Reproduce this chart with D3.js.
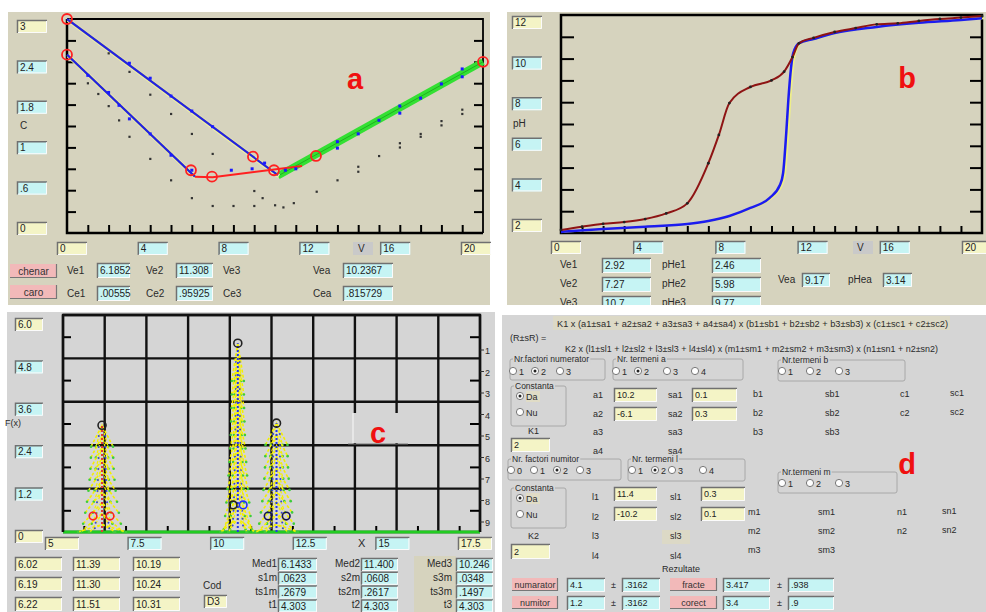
<!DOCTYPE html>
<html>
<head>
<meta charset="utf-8">
<script src="https://cdn.jsdelivr.net/npm/d3@7"></script>
<style>
  body { margin: 0; background: #fff; }
  svg { display: block; font-family: "Liberation Sans", Arial, sans-serif; }
</style>
</head>
<body>
<svg id="chart" width="986" height="612"></svg>
<script>
// ---- panel a : conductometric titration ----
const aLineUpper = [[0, 3], [10.14, 0.81]];
const aLineLower = [[0, 2.5], [6.15, 0.79]];
const aLineRed = [[6.15, 0.79], [7, 0.78], [11.3, 0.94]];
const aLineGreen = [[10.14, 0.80], [20, 2.4]];
const aCircles = [[0, 3], [0, 2.5], [5.96, 0.88], [6.97, 0.79], [8.94, 1.07], [9.95, 0.88], [11.97, 1.08], [20, 2.4]];
const aBlueDots = [[3, 2.38], [4, 2.17], [5, 1.92], [6, 1.71], [7, 1.49], [9.5, 0.98],
  [1, 2.21], [2, 1.97], [2.5, 1.79], [3, 1.60], [4, 1.39], [5, 1.09], [6, 0.88],
  [7.9, 0.88], [8.9, 0.90], [10.5, 0.88], [11, 0.90],
  [13, 1.28], [13, 1.19], [14, 1.39], [15, 1.58], [16, 1.78], [16, 1.68], [17, 1.89], [18, 2.09], [19, 2.30], [19, 2.19]];
const aBlackDots = [[2, 2.52], [3, 2.26], [4, 1.94], [5, 1.67], [6, 1.39], [7, 1.11],
  [1, 2.10], [1.5, 1.95], [2, 1.78], [2.5, 1.58], [3, 1.35], [4, 1.04], [5, 0.74], [6, 0.49], [7, 0.38], [8, 0.38],
  [9, 0.59], [9.4, 0.49], [9, 0.38], [10, 0.39], [10.4, 0.36], [10.9, 0.42], [12, 0.58], [13, 0.74],
  [14, 0.93], [14, 0.86], [15, 1.08], [16, 1.26], [16, 1.20], [17, 1.39], [17, 1.35], [18, 1.57], [18, 1.51], [19, 1.73], [19, 1.67]];
const aXLabels = ['0', '4', '8', '12', '16', '20'];
const aYLabels = ['3', '2.4', '1.8', '1', '.6', '0'];
const aVeNames = ['Ve1', 'Ve2', 'Ve3', 'Vea'];
const aVeValues = ['6.1852', '11.308', '', '10.2367'];
const aCeNames = ['Ce1', 'Ce2', 'Ce3', 'Cea'];
const aCeValues = ['.00555', '.95925', '', '.815729'];

// ---- panel b : pH titration curves ----
const bVol1 = [0, 1, 2, 3, 4, 5, 6, 7, 7.5, 8, 9, 10, 10.6, 11, 11.3, 12, 13, 14, 15, 16, 17, 18, 19, 20];
const bPh1 = [2.14, 2.29, 2.42, 2.5, 2.64, 2.9, 3.36, 5.2, 6.5, 7.96, 8.7, 9.0, 9.4, 10.07, 10.7, 10.95, 11.22, 11.4, 11.57, 11.62, 11.73, 11.82, 11.88, 11.95];
const bVol2 = [0, 2, 4, 6, 7, 8, 9, 9.9, 10.4, 10.55, 10.7, 10.8, 10.93, 11.03, 11.3, 12, 13, 15, 17, 19, 20];
const bPh2 = [2.05, 2.18, 2.29, 2.41, 2.55, 2.78, 3.15, 3.6, 4.2, 4.74, 6.58, 8.1, 9.6, 10.24, 10.7, 10.9, 11.17, 11.45, 11.64, 11.77, 11.85];
const bXLabels = ['0', '4', '8', '12', '16', '20'];
const bYLabels = ['12', '10', '8', '6', '4', '2'];
const bVeNames = ['Ve1', 'Ve2', 'Ve3'];
const bVeValues = ['2.92', '7.27', '10.7'];
const bPheNames = ['pHe1', 'pHe2', 'pHe3'];
const bPheValues = ['2.46', '5.98', '9.77'];

// ---- panel c : distributions ----
const cPeakX = [6.17, 10.24, 11.40];
const cPeakH = [2.95, 5.22, 3.01];
const cPeakTopW = [0.33, 0.18, 0.33];
const cPeakBaseW = [0.72, 0.52, 0.64];
const cCircleX = [5.90, 6.41, 10.10, 10.40, 11.15, 11.69];
const cCircleY = [0.44, 0.44, 0.75, 0.75, 0.44, 0.44];
const cXLabels = ['5', '7.5', '10', '12.5', '15', '17.5'];
const cYLabels = ['6.0', '4.8', '3.6', '2.4', '1.2', '0'];
const cRightLabels = ['1', '2', '3', '4', '5', '6', '7', '8', '9'];
const cTable = [['6.02', '11.39', '10.19'], ['6.19', '11.30', '10.24'], ['6.22', '11.51', '10.31']];
const cStatNames = [['Med1', 's1m', 'ts1m', 't1'], ['Med2', 's2m', 'ts2m', 't2'], ['Med3', 's3m', 'ts3m', 't3']];
const cStatValues = [['6.1433', '.0623', '.2679', '4.303'], ['11.400', '.0608', '.2617', '4.303'], ['10.246', '.0348', '.1497', '4.303']];

// ---- panel d : uncertainty form ----
const dFormula1 = 'K1 x (a1±sa1 + a2±sa2 + a3±sa3 + a4±sa4) x (b1±sb1 + b2±sb2 + b3±sb3) x (c1±sc1 + c2±sc2)';
const dFormula2 = 'K2 x (l1±sl1 + l2±sl2 + l3±sl3 + l4±sl4) x (m1±sm1 + m2±sm2 + m3±sm3) x (n1±sn1 + n2±sn2)';
const dAValues = ['10.2', '-6.1'];
const dSaValues = ['0.1', '0.3'];
const dLValues = ['11.4', '-10.2'];
const dSlValues = ['0.3', '0.1'];
const dResultNames = ['numarator', 'numitor'];
const dResultValues = ['4.1', '1.2'];
const dResultErrors = ['.3162', '.3162'];
const dFinalNames = ['fracte', 'corect'];
const dFinalValues = ['3.417', '3.4'];
const dFinalErrors = ['.938', '.9'];

// colours
const CYAN = '#c6f4f4', YEL = '#f4f4c6', PINK = '#f2b9b9';
const BEIGE = '#d6d3be', GRAY = '#d5d5d5';

const svg = d3.select('#chart');

// sunken edit box with text
function box(g, x, y, w, h, text, fill, size) {
  g.append('rect').attr('x', x).attr('y', y).attr('width', w).attr('height', h).attr('fill', fill);
  g.append('path').attr('d', `M${x + 0.5},${y + h}V${y + 0.5}H${x + w}`)
    .attr('fill', 'none').attr('stroke', '#707070').attr('stroke-width', 1.5);
  g.append('path').attr('d', `M${x + w - 0.5},${y + 1}V${y + h - 0.5}H${x + 1}`)
    .attr('fill', 'none').attr('stroke', '#fbfbfb').attr('stroke-width', 1);
  g.append('text').attr('x', x + 3).attr('y', y + h / 2).attr('dy', '0.36em')
    .attr('font-size', size || 10).attr('fill', '#222').text(text);
}

function label(g, x, y, text, size, anchor) {
  return g.append('text').attr('x', x).attr('y', y).attr('font-size', size || 10)
    .attr('fill', '#2a2a2a').attr('text-anchor', anchor || 'start').text(text);
}

function button(g, x, y, w, h, text, size) {
  g.append('rect').attr('x', x).attr('y', y).attr('width', w).attr('height', h).attr('fill', PINK);
  g.append('path').attr('d', `M${x + w - 0.5},${y}V${y + h - 0.5}H${x}`)
    .attr('fill', 'none').attr('stroke', '#777').attr('stroke-width', 1.2);
  g.append('text').attr('x', x + w / 2).attr('y', y + h / 2).attr('dy', '0.36em')
    .attr('text-anchor', 'middle').attr('font-size', size || 10).attr('fill', '#333').text(text);
}

function tickAxis(g, axis, tx, ty, width) {
  const a = g.append('g').attr('transform', `translate(${tx},${ty})`).call(axis);
  a.select('.domain').remove();
  a.selectAll('text').remove();
  a.selectAll('line').attr('stroke', '#000').attr('stroke-width', width || 2);
}

function panelLetter(x, y, t) {
  svg.append('text').attr('x', x).attr('y', y).attr('text-anchor', 'middle')
    .attr('font-size', 29).attr('font-weight', 'bold').attr('fill', '#f01010')
    .attr('font-family', '"Liberation Sans", Arial, sans-serif').text(t);
}

// ================= PANEL A =================
const ga = svg.append('g');
ga.append('rect').attr('x', 8).attr('y', 12).attr('width', 482).attr('height', 293).attr('fill', BEIGE);
const xa = d3.scaleLinear().domain([0, 20]).range([67, 483]);
const ya = d3.scaleLinear().domain([0, 3]).range([233, 19]);

tickAxis(ga, d3.axisRight(ya).tickValues(d3.range(1, 10).map(i => i * 0.3)).tickSize(9), 67, 0);
tickAxis(ga, d3.axisLeft(ya).tickValues(d3.range(1, 10).map(i => i * 0.3)).tickSize(9), 483, 0);
tickAxis(ga, d3.axisTop(xa).tickValues(d3.range(1, 20)).tickSize(8), 0, 233);
ga.append('path').attr('d', `M${xa(0)},${ya(3)}H${xa(20)}V${ya(0)}`).attr('fill', 'none').attr('stroke', '#000').attr('stroke-width', 1.8);
ga.append('path').attr('d', `M${xa(0)},${ya(3)}V${ya(0)}H${xa(20)}`).attr('fill', 'none').attr('stroke', '#000').attr('stroke-width', 2.5);

const lineA = d3.line().x(d => xa(d[0])).y(d => ya(d[1]));
ga.append('path').attr('d', lineA(aLineGreen)).attr('stroke', '#33e033').attr('stroke-width', 7).attr('fill', 'none');
ga.append('path').attr('d', lineA(aLineGreen)).attr('stroke', '#1fb01f').attr('stroke-width', 1).attr('fill', 'none');
[aLineUpper, aLineLower].forEach(l => {
  ga.append('path').attr('d', lineA(l)).attr('stroke', '#f2f2a0').attr('stroke-width', 4).attr('fill', 'none').attr('transform', 'translate(1,1)');
  ga.append('path').attr('d', lineA(l)).attr('stroke', '#2424dd').attr('stroke-width', 2.2).attr('fill', 'none');
});
ga.append('path').attr('d', lineA(aLineRed)).attr('stroke', '#ff2020').attr('stroke-width', 2).attr('fill', 'none');

ga.selectAll('.bk').data(aBlackDots).enter().append('rect').attr('class', 'bk')
  .attr('x', d => xa(d[0]) - 1).attr('y', d => ya(d[1]) - 1).attr('width', 2.2).attr('height', 2.2).attr('fill', '#333');
ga.selectAll('.bl').data(aBlueDots).enter().append('rect').attr('class', 'bl')
  .attr('x', d => xa(d[0]) - 1.5).attr('y', d => ya(d[1]) - 1.5).attr('width', 3).attr('height', 3).attr('fill', '#1a1aff');
ga.selectAll('.rc').data(aCircles).enter().append('circle').attr('class', 'rc')
  .attr('cx', d => xa(d[0])).attr('cy', d => ya(d[1])).attr('r', 5)
  .attr('fill', 'none').attr('stroke', '#ff2020').attr('stroke-width', 1.8);

aYLabels.forEach((t, i) => box(ga, 17, 20 + i * 40.4, 30, 13, t, (i === 0 || i === aYLabels.length - 1) ? YEL : CYAN));
label(ga, 20, 129, 'C', 10);
const aBoxX = d3.scaleLinear().domain([0, 20]).range([57, 461]);
aXLabels.forEach((t, i) => box(ga, aBoxX(+t), 242, 30, 13, t, (i === 0 || i === aXLabels.length - 1) ? YEL : CYAN));
ga.append('rect').attr('x', 353).attr('y', 242).attr('width', 20).attr('height', 13).attr('fill', '#c9c9c9');
label(ga, 358, 252, 'V');

const aColLabelX = [67, 146, 223, 313];
const aColBoxX = [97, 176, 0, 343];
const aColBoxW = [33, 37, 0, 50];
aVeNames.forEach((n, i) => {
  label(ga, aColLabelX[i], 274, n);
  if (aVeValues[i]) box(ga, aColBoxX[i], 263, aColBoxW[i], 15, aVeValues[i], CYAN);
});
aCeNames.forEach((n, i) => {
  label(ga, aColLabelX[i], 297, n);
  if (aCeValues[i]) box(ga, aColBoxX[i], 286, aColBoxW[i], 15, aCeValues[i], CYAN);
});
button(ga, 10, 264, 47, 14, 'chenar');
button(ga, 10, 285, 47, 14, 'caro');

// ================= PANEL B =================
const gb = svg.append('g');
gb.append('rect').attr('x', 507).attr('y', 12).attr('width', 479).attr('height', 293).attr('fill', BEIGE);
const xb = d3.scaleLinear().domain([0, 20]).range([561, 982]);
const yb = d3.scaleLinear().domain([2, 12]).range([233, 15]);

tickAxis(gb, d3.axisRight(yb).tickValues(d3.range(3, 12)).tickSize(13), 561, 0);
tickAxis(gb, d3.axisLeft(yb).tickValues(d3.range(3, 12)).tickSize(12), 982, 0);
tickAxis(gb, d3.axisTop(xb).tickValues(d3.range(1, 20)).tickSize(7), 0, 233);
gb.append('rect').attr('x', xb(0)).attr('y', yb(12)).attr('width', xb(20) - xb(0)).attr('height', yb(2) - yb(12))
  .attr('fill', 'none').attr('stroke', '#000').attr('stroke-width', 2.5);

const lineB = d3.line().curve(d3.curveMonotoneX).x(d => xb(d[0])).y(d => yb(d[1]));
const bData1 = bVol1.map((v, i) => [v, bPh1[i]]);
const bData2 = bVol2.map((v, i) => [v, bPh2[i]]);
gb.append('path').attr('d', lineB(bData2)).attr('stroke', '#eeee88').attr('stroke-width', 2).attr('fill', 'none').attr('transform', 'translate(2,0)');
gb.append('path').attr('d', lineB(bData2)).attr('stroke', '#1c1cf0').attr('stroke-width', 2.5).attr('fill', 'none');
gb.append('path').attr('d', lineB(bData1)).attr('stroke', '#8e1414').attr('stroke-width', 2).attr('fill', 'none');
gb.selectAll('.pd').data(bData1).enter().append('circle').attr('class', 'pd')
  .attr('cx', d => xb(d[0])).attr('cy', d => yb(d[1])).attr('r', 1.4).attr('fill', '#222');

bYLabels.forEach((t, i) => box(gb, 512, 16 + i * 40.6, 30, 13, t, (i === 0 || i === bYLabels.length - 1) ? YEL : CYAN));
label(gb, 513, 127, 'pH', 10);
const bBoxX = d3.scaleLinear().domain([0, 20]).range([551, 962]);
bXLabels.forEach((t, i) => box(gb, bBoxX(+t), 241, 30, 13, t, (i === 0 || i === bXLabels.length - 1) ? YEL : CYAN));
gb.append('rect').attr('x', 853).attr('y', 241).attr('width', 20).attr('height', 13).attr('fill', '#c9c9c9');
label(gb, 857, 251, 'V');

bVeNames.forEach((n, i) => {
  const y = 258 + i * 19;
  label(gb, 560, y + 10, n);
  box(gb, 602, y, 49, 15, bVeValues[i], CYAN);
  label(gb, 662, y + 10, bPheNames[i]);
  box(gb, 712, y, 49, 15, bPheValues[i], CYAN);
});
label(gb, 778, 283, 'Vea');
box(gb, 802, 273, 28, 14, '9.17', CYAN);
label(gb, 848, 283, 'pHea');
box(gb, 883, 273, 29, 14, '3.14', CYAN);

// white gap between rows of panels
svg.append('rect').attr('x', 0).attr('y', 305).attr('width', 986).attr('height', 7).attr('fill', '#fff');
svg.append('rect').attr('x', 495).attr('y', 305).attr('width', 491).attr('height', 10).attr('fill', '#fff');

// ================= PANEL C =================
const gc = svg.append('g');
gc.append('rect').attr('x', 7).attr('y', 312).attr('width', 488).attr('height', 300).attr('fill', GRAY);
const xc = d3.scaleLinear().domain([5, 17.5]).range([63, 480]);
const yc = d3.scaleLinear().domain([0, 6]).range([532, 315]);

gc.selectAll('.vg').data(d3.range(0, 11).map(i => 5 + i * 1.25)).enter().append('line').attr('class', 'vg')
  .attr('x1', d => xc(d)).attr('x2', d => xc(d)).attr('y1', yc(6)).attr('y2', yc(0))
  .attr('stroke', '#111').attr('stroke-width', 2.4);
gc.selectAll('.hg').data(d3.range(0, 6).map(i => i * 1.2)).enter().append('line').attr('class', 'hg')
  .attr('x1', xc(5)).attr('x2', xc(17.5)).attr('y1', d => yc(d)).attr('y2', d => yc(d))
  .attr('stroke', '#111').attr('stroke-width', 2.4);
const cMidY = d3.range(0, 5).map(i => 0.6 + i * 1.2);
const cMidX = d3.range(0, 10).map(i => 5.625 + i * 1.25);
tickAxis(gc, d3.axisRight(yc).tickValues(cMidY).tickSize(8), xc(5), 0);
tickAxis(gc, d3.axisLeft(yc).tickValues(cMidY).tickSize(10), xc(17.5), 0);
tickAxis(gc, d3.axisTop(xc).tickValues(cMidX).tickSize(6), 0, yc(0));
gc.append('line').attr('x1', xc(5)).attr('x2', xc(17.5)).attr('y1', yc(0)).attr('y2', yc(0))
  .attr('stroke', '#22cc22').attr('stroke-width', 3);

// small label box behind the letter c (breaks the grid lines)
gc.append('rect').attr('x', 353).attr('y', 413).attr('width', 55).attr('height', 30).attr('fill', GRAY);
gc.append('path').attr('d', 'M353,443V413').attr('stroke', '#f4f4f4').attr('stroke-width', 1.2);
gc.append('path').attr('d', 'M348,444H408').attr('stroke', '#777').attr('stroke-width', 1);

// peaks
const lineC = d3.line().x(d => xc(d[0])).y(d => yc(d[1]));
const cCenterColor = ['#e03838', '#2233ee', '#2233ee'];
cPeakX.forEach((cx, i) => {
  const h = cPeakH[i], tw = cPeakTopW[i], bw = cPeakBaseW[i];
  const n = Math.round(h * 2) + 4;
  const pg = gc.append('g');
  for (let j = 0; j < n; j++) {
    const t = j / (n - 1);
    const top = h * (1 - t * 0.93);
    const foot = Math.max(0, top - h * 0.2);
    const w = tw + (bw - tw) * t * t;
    [w, w * 0.55].forEach((ww, k) => {
      pg.append('path').attr('d', lineC([[cx - ww, foot], [cx, top], [cx + ww, foot]]))
        .attr('fill', 'none').attr('stroke', '#f4f000').attr('stroke-width', k ? 1.2 : 1.6)
        .attr('stroke-dasharray', '3,2');
    });
    [-w, w, -w * 0.55, w * 0.55].forEach(dx => {
      pg.append('circle').attr('cx', xc(cx + dx)).attr('cy', yc(foot)).attr('r', 1.3).attr('fill', '#3ccc3c');
    });
    [-w * 0.3, w * 0.3].forEach(dx => {
      pg.append('circle').attr('cx', xc(cx + dx)).attr('cy', yc((top + foot) / 2)).attr('r', 1).attr('fill', '#3344dd');
    });
  }
  pg.append('line').attr('x1', xc(cx)).attr('x2', xc(cx)).attr('y1', yc(0)).attr('y2', yc(h))
    .attr('stroke', cCenterColor[i]).attr('stroke-width', 2).attr('stroke-dasharray', '2,2');
  pg.append('circle').attr('cx', xc(cx)).attr('cy', yc(h)).attr('r', 4)
    .attr('fill', 'none').attr('stroke', '#222').attr('stroke-width', 1.6);
});
const cCircleStroke = ['#ff2020', '#ff2020', '#222', '#2030ff', '#141450', '#141450'];
cCircleX.forEach((x, i) => {
  gc.append('circle').attr('cx', xc(x)).attr('cy', yc(cCircleY[i])).attr('r', 3.8)
    .attr('fill', 'none').attr('stroke', cCircleStroke[i]).attr('stroke-width', 1.6);
});

// frame
gc.append('path').attr('d', `M${xc(5)},${yc(0)}V${yc(6)}H${xc(17.5)}V${yc(0)}`)
  .attr('fill', 'none').attr('stroke', '#111').attr('stroke-width', 2.4);

cRightLabels.forEach((t, i) => {
  const y = 350 + i * 21.5;
  gc.append('line').attr('x1', 480).attr('x2', 484).attr('y1', y).attr('y2', y).attr('stroke', '#333');
  label(gc, 485, y + 4, t, 9);
});
cYLabels.forEach((t, i) => box(gc, 15, 318 + i * 42.4, 28, 13, t, (i === 0 || i === cYLabels.length - 1) ? YEL : CYAN));
label(gc, 5, 426, 'F(x)', 9);
const cBoxX = d3.scaleLinear().domain([5, 17.5]).range([45, 458]);
cXLabels.forEach((t, i) => box(gc, cBoxX(+t), 537, 34, 13, t, (i === 0 || i === cXLabels.length - 1) ? YEL : CYAN));
label(gc, 358, 547, 'X', 11);

const cTableX = [15, 73, 133];
cTable.forEach((row, r) => row.forEach((v, k) => box(gc, cTableX[k], 557 + r * 20, 47, 14, v, YEL)));
label(gc, 203, 589, 'Cod');
box(gc, 204, 595, 23, 13, 'D3', YEL);

gc.append('rect').attr('x', 414).attr('y', 556).attr('width', 42).attr('height', 56).attr('fill', BEIGE);
const cStatLabelX = [277, 360, 452];
const cStatBoxX = [278, 361, 456];
const cStatBoxW = [39, 37, 37];
cStatNames.forEach((names, k) => names.forEach((n, r) => {
  label(gc, cStatLabelX[k], 567 + r * 13.8, n, 10, 'end');
  box(gc, cStatBoxX[k], 558 + r * 13.8, cStatBoxW[k], 13, cStatValues[k][r], CYAN);
}));

// ================= PANEL D =================
const gd = svg.append('g');
gd.append('rect').attr('x', 502).attr('y', 315).attr('width', 484).attr('height', 297).attr('fill', GRAY);
gd.append('rect').attr('x', 553).attr('y', 316).attr('width', 397).attr('height', 14).attr('fill', '#dcd9c6');
label(gd, 557, 327, dFormula1, 9).attr('textLength', 391).attr('lengthAdjust', 'spacingAndGlyphs');
label(gd, 510, 341, '(R±sR) =', 9);
label(gd, 565, 352, dFormula2, 9).attr('textLength', 373).attr('lengthAdjust', 'spacingAndGlyphs');

function group(g, x, y, w, h, title) {
  g.append('rect').attr('x', x).attr('y', y).attr('width', w).attr('height', h)
    .attr('fill', 'none').attr('stroke', '#a8a8a8').attr('rx', 2);
  const t = label(g, x + 4, y + 3, title, 8.5);
  const bb = t.node().getBBox();
  g.insert('rect', () => t.node()).attr('x', bb.x - 1).attr('y', bb.y).attr('width', bb.width + 2)
    .attr('height', bb.height).attr('fill', GRAY);
}
function radios(g, xs, y, names, sel) {
  xs.forEach((x, i) => {
    g.append('circle').attr('cx', x).attr('cy', y).attr('r', 3.6).attr('fill', '#fff').attr('stroke', '#777');
    if (i === sel) g.append('circle').attr('cx', x).attr('cy', y).attr('r', 1.5).attr('fill', '#222');
    label(g, x + 6, y + 3.5, names[i], 9);
  });
}

group(gd, 510, 359, 95, 21, 'Nr.factori numerator');
radios(gd, [513, 535, 560], 371, ['1', '2', '3'], 1);
group(gd, 613, 359, 130, 21, 'Nr. termeni a');
radios(gd, [616, 638, 667, 695], 371, ['1', '2', '3', '4'], 1);
group(gd, 778, 360, 127, 21, 'Nr.termeni b');
radios(gd, [782, 810, 839], 371, ['1', '2', '3'], -1);

function constanta(g, y) {
  group(g, 511, y, 55, 40, 'Constanta');
  g.append('rect').attr('x', 526).attr('y', y + 5).attr('width', 14).attr('height', 11).attr('fill', '#e0dcc6');
  radios(g, [520], y + 10, ['Da'], 0);
  radios(g, [520], y + 26, ['Nu'], -1);
}
constanta(gd, 386);

['a1', 'a2', 'a3', 'a4'].forEach((n, i) => label(gd, 593, 398 + i * 18.5, n, 9));
['sa1', 'sa2', 'sa3', 'sa4'].forEach((n, i) => label(gd, 668, 398 + i * 18.5, n, 9));
dAValues.forEach((v, i) => box(gd, 614, 388 + i * 19, 43, 14, v, YEL, 9));
dSaValues.forEach((v, i) => box(gd, 692, 388 + i * 19, 45, 14, v, YEL, 9));
label(gd, 528, 434, 'K1', 9);
box(gd, 511, 438, 39, 14, '2', YEL, 9);
['b1', 'b2', 'b3'].forEach((n, i) => label(gd, 753, 397 + i * 19, n, 9));
['sb1', 'sb2', 'sb3'].forEach((n, i) => label(gd, 825, 397 + i * 19, n, 9));
['c1', 'c2'].forEach((n, i) => label(gd, 900, 397 + i * 19, n, 9));
['sc1', 'sc2'].forEach((n, i) => label(gd, 950, 396 + i * 19, n, 9));

group(gd, 508, 459, 113, 21, 'Nr. factori numitor');
radios(gd, [511, 534, 557, 580], 470, ['0', '1', '2', '3'], 2);
group(gd, 628, 459, 117, 22, 'Nr. termeni l');
radios(gd, [632, 655, 672, 703], 470, ['1', '2', '3', '4'], 1);
group(gd, 778, 472, 119, 21, 'Nr.termeni m');
radios(gd, [782, 810, 839], 483, ['1', '2', '3'], -1);
constanta(gd, 488);

['l1', 'l2', 'l3', 'l4'].forEach((n, i) => label(gd, 592, 500 + i * 19.5, n, 9));
gd.append('rect').attr('x', 662).attr('y', 530).attr('width', 28).attr('height', 14).attr('fill', '#dcd9c6');
['sl1', 'sl2', 'sl3', 'sl4'].forEach((n, i) => label(gd, 670, 500 + i * 19.5, n, 9));
dLValues.forEach((v, i) => box(gd, 614, 487 + i * 20, 43, 14, v, YEL, 9));
dSlValues.forEach((v, i) => box(gd, 701, 487 + i * 20, 44, 14, v, YEL, 9));
label(gd, 528, 539, 'K2', 9);
box(gd, 511, 544, 39, 15, '2', YEL, 9);
['m1', 'm2', 'm3'].forEach((n, i) => label(gd, 748, 515 + i * 19, n, 9));
['sm1', 'sm2', 'sm3'].forEach((n, i) => label(gd, 818, 515 + i * 19, n, 9));
['n1', 'n2'].forEach((n, i) => label(gd, 897, 515 + i * 19, n, 9));
['sn1', 'sn2'].forEach((n, i) => label(gd, 942, 514 + i * 19, n, 9));

label(gd, 662, 572, 'Rezultate', 9);
dResultNames.forEach((n, i) => {
  const y = 578 + i * 18;
  button(gd, 512, y, 46, 13, n, 9);
  box(gd, 567, y, 38, 14, dResultValues[i], CYAN, 9);
  label(gd, 611, y + 10, '±', 9);
  box(gd, 622, y, 38, 14, dResultErrors[i], CYAN, 9);
  button(gd, 670, y, 47, 13, dFinalNames[i], 9);
  box(gd, 723, y, 47, 14, dFinalValues[i], CYAN, 9);
  label(gd, 777, y + 10, '±', 9);
  box(gd, 788, y, 46, 14, dFinalErrors[i], CYAN, 9);
});

// panel letters
panelLetter(355, 89, 'a');
panelLetter(907, 88, 'b');
panelLetter(378, 443, 'c');
panelLetter(907, 474, 'd');
</script>
</body>
</html>
